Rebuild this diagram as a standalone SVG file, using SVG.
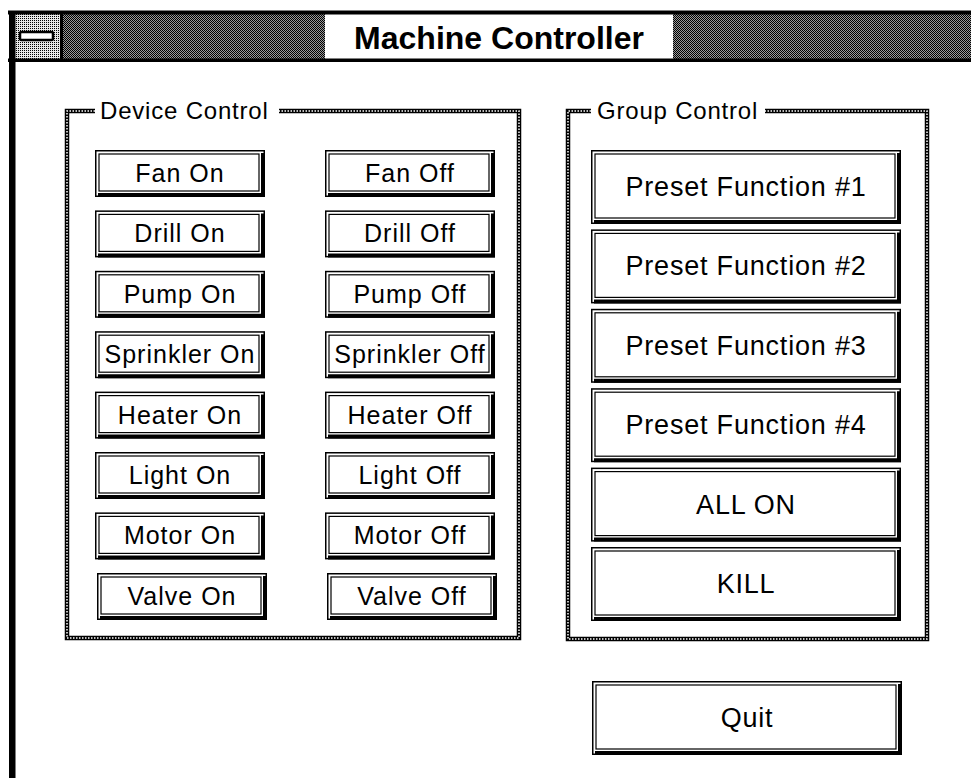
<svg xmlns="http://www.w3.org/2000/svg" xmlns:xlink="http://www.w3.org/1999/xlink" width="971" height="778" viewBox="0 0 971 778">
  <defs>
    <!-- dark dither for the title bar -->
    <pattern id="dither-dark" width="2" height="2" patternUnits="userSpaceOnUse">
      <rect width="2" height="2" fill="#9a9a9a"/>
      <rect x="0" y="0" width="1" height="1" fill="#000" shape-rendering="crispEdges"/>
      <rect x="1" y="1" width="1" height="1" fill="#000" shape-rendering="crispEdges"/>
    </pattern>
    <!-- lighter dither for the system menu box -->
    <pattern id="dither-light" width="2" height="2" patternUnits="userSpaceOnUse">
      <rect width="2" height="2" fill="#e6e6e6"/>
      <rect x="0" y="0" width="1" height="1" fill="#000" shape-rendering="crispEdges"/>
    </pattern>
    <style>
      .ui { font-family: "Liberation Sans", Arial, Helvetica, sans-serif; fill: #000; }
      .btn-text { font-size: 25px; letter-spacing: 1px; text-anchor: middle; }
      .big-text { font-size: 27px; letter-spacing: 0.8px; text-anchor: middle; }
      .grp-text { font-size: 24px; letter-spacing: 0.8px; }
      .title-text { font-size: 32px; font-weight: bold; text-anchor: middle; }
      .frame-out { fill: #fff; stroke: #000; stroke-width: 1.5; }
      .frame-in { fill: none; stroke: #000; stroke-width: 1.2; }
      .shadow { fill: none; stroke: #000; stroke-width: 4; }
      .chain-a { fill: none; stroke: #000; stroke-width: 4.5; }
      .chain-b { fill: none; stroke: #fff; stroke-width: 1.5; stroke-dasharray: 1.5 1.5; }
    </style>
    <!-- small device button, 170 x 47 -->
    <g id="dev-btn">
      <rect class="frame-out" x="0.75" y="0.75" width="168.5" height="45.5"/>
      <rect class="frame-in" x="4" y="4" width="160" height="37"/>
      <path class="shadow" d="M3 45 H168 V3"/>
    </g>
    <!-- large group button, 310 x 74 -->
    <g id="grp-btn">
      <rect class="frame-out" x="0.75" y="0.75" width="308.5" height="72.5"/>
      <rect class="frame-in" x="4" y="4" width="300" height="64"/>
      <path class="shadow" d="M3 72 H308 V3"/>
    </g>
  </defs>

  <rect width="971" height="778" fill="#fff"/>

  <!-- window frame and title bar -->
  <g id="window">
    <rect x="63" y="14" width="262" height="45" fill="url(#dither-dark)"/>
    <rect x="673" y="14" width="298" height="45" fill="url(#dither-dark)"/>
    <rect x="14" y="14" width="46" height="45" fill="url(#dither-light)"/>
    <rect x="60" y="14" width="3" height="45" fill="#000"/>
    <rect x="8" y="10.5" width="963" height="4" fill="#000"/>
    <rect x="8" y="58.5" width="963" height="3.5" fill="#000"/>
    <rect x="9" y="11" width="6.5" height="767" fill="#000"/>
    <rect x="20" y="32" width="33" height="8" rx="1.5" fill="#fff" stroke="#000" stroke-width="2.5"/>
    <text class="ui title-text" x="499" y="49">Machine Controller</text>
  </g>

  <!-- Device Control group box -->
  <g id="device-control">
    <path class="chain-a" d="M95 111 H67 V638 H519 V111 H279"/>
    <path class="chain-b" d="M95 111 H67 V638 H519 V111 H279"/>
    <text class="ui grp-text" x="100" y="119">Device Control</text>
  </g>

  <!-- Group Control group box -->
  <g id="group-control">
    <path class="chain-a" d="M591 111 H568 V639 H927 V111 H765"/>
    <path class="chain-b" d="M591 111 H568 V639 H927 V111 H765"/>
    <text class="ui grp-text" x="597" y="119">Group Control</text>
  </g>

  <!-- device buttons: left column "On", right column "Off" -->
  <g id="fan-on" transform="translate(95,150)"><use xlink:href="#dev-btn"/><text class="ui btn-text" x="85" y="32">Fan On</text></g>
  <g id="fan-off" transform="translate(325,150)"><use xlink:href="#dev-btn"/><text class="ui btn-text" x="85" y="32">Fan Off</text></g>
  <g id="drill-on" transform="translate(95,210.4)"><use xlink:href="#dev-btn"/><text class="ui btn-text" x="85" y="32">Drill On</text></g>
  <g id="drill-off" transform="translate(325,210.4)"><use xlink:href="#dev-btn"/><text class="ui btn-text" x="85" y="32">Drill Off</text></g>
  <g id="pump-on" transform="translate(95,270.8)"><use xlink:href="#dev-btn"/><text class="ui btn-text" x="85" y="32">Pump On</text></g>
  <g id="pump-off" transform="translate(325,270.8)"><use xlink:href="#dev-btn"/><text class="ui btn-text" x="85" y="32">Pump Off</text></g>
  <g id="sprinkler-on" transform="translate(95,331.2)"><use xlink:href="#dev-btn"/><text class="ui btn-text" x="85" y="32">Sprinkler On</text></g>
  <g id="sprinkler-off" transform="translate(325,331.2)"><use xlink:href="#dev-btn"/><text class="ui btn-text" x="85" y="32">Sprinkler Off</text></g>
  <g id="heater-on" transform="translate(95,391.6)"><use xlink:href="#dev-btn"/><text class="ui btn-text" x="85" y="32">Heater On</text></g>
  <g id="heater-off" transform="translate(325,391.6)"><use xlink:href="#dev-btn"/><text class="ui btn-text" x="85" y="32">Heater Off</text></g>
  <g id="light-on" transform="translate(95,452)"><use xlink:href="#dev-btn"/><text class="ui btn-text" x="85" y="32">Light On</text></g>
  <g id="light-off" transform="translate(325,452)"><use xlink:href="#dev-btn"/><text class="ui btn-text" x="85" y="32">Light Off</text></g>
  <g id="motor-on" transform="translate(95,512.4)"><use xlink:href="#dev-btn"/><text class="ui btn-text" x="85" y="32">Motor On</text></g>
  <g id="motor-off" transform="translate(325,512.4)"><use xlink:href="#dev-btn"/><text class="ui btn-text" x="85" y="32">Motor Off</text></g>
  <g id="valve-on" transform="translate(97,573)"><use xlink:href="#dev-btn"/><text class="ui btn-text" x="85" y="32">Valve On</text></g>
  <g id="valve-off" transform="translate(327,573)"><use xlink:href="#dev-btn"/><text class="ui btn-text" x="85" y="32">Valve Off</text></g>

  <!-- group buttons -->
  <g id="preset-1" transform="translate(591,150)"><use xlink:href="#grp-btn"/><text class="ui big-text" x="155" y="46">Preset Function #1</text></g>
  <g id="preset-2" transform="translate(591,229.4)"><use xlink:href="#grp-btn"/><text class="ui big-text" x="155" y="46">Preset Function #2</text></g>
  <g id="preset-3" transform="translate(591,308.8)"><use xlink:href="#grp-btn"/><text class="ui big-text" x="155" y="46">Preset Function #3</text></g>
  <g id="preset-4" transform="translate(591,388.2)"><use xlink:href="#grp-btn"/><text class="ui big-text" x="155" y="46">Preset Function #4</text></g>
  <g id="all-on" transform="translate(591,467.6)"><use xlink:href="#grp-btn"/><text class="ui big-text" x="155" y="46">ALL ON</text></g>
  <g id="kill" transform="translate(591,547)"><use xlink:href="#grp-btn"/><text class="ui big-text" x="155" y="46">KILL</text></g>

  <!-- quit button -->
  <g id="quit" transform="translate(592,681)"><use xlink:href="#grp-btn"/><text class="ui big-text" x="155" y="46">Quit</text></g>
</svg>
